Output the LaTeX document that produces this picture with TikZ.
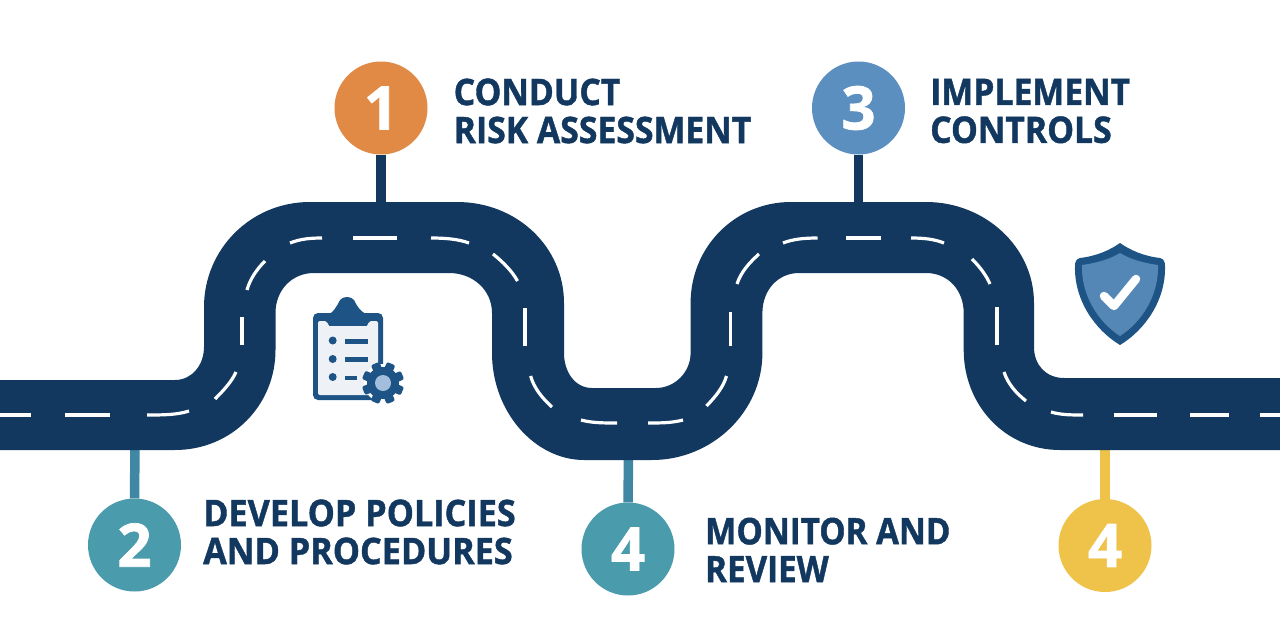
\documentclass[tikz,border=0pt]{standalone}
\usepackage{fontspec}
\setmainfont[BoldFeatures={FakeBold=1.2}]{Open Sans}
\definecolor{road}{HTML}{123860}
\definecolor{orangec}{HTML}{E08A45}
\definecolor{bluec}{HTML}{5B8FBF}
\definecolor{tealc}{HTML}{4A9BAB}
\definecolor{yellowc}{HTML}{EFC24A}
\definecolor{tealln}{HTML}{3F87A3}
\definecolor{iconblue}{HTML}{1D5485}
\definecolor{shieldfill}{HTML}{5487B6}
\definecolor{paper}{HTML}{EEF2F6}
\definecolor{hub}{HTML}{A3BEDC}
\newcommand{\lbl}[2]{\scalebox{#1}[1]{#2}}
\tikzset{
  x=1pt,y=-1pt,
  badge/.style={circle,minimum size=93pt,inner sep=0pt,text=white,font=\fontsize{60}{60}\selectfont\bfseries},
  stem/.style={line width=9.5pt},
  lane/.style={white,line width=3.2pt},
  caption/.style={anchor=west,align=left,text=road,inner sep=0pt,font=\fontsize{36.5}{38}\selectfont\bfseries}
}
\begin{document}
\begin{tikzpicture}
\useasboundingbox (0,0) rectangle (1280,640);
\fill[white] (0,0) rectangle (1280,640);
% anchors on the road
\coordinate (r1) at (381,205);
\coordinate (r3) at (858.5,205);
\coordinate (r2) at (135,447);
\coordinate (r4) at (628.5,457);
\coordinate (r5) at (1105,447);
% badges
\node[badge,fill=orangec] (b1) at (381,108) {1};
\node[badge,fill=bluec] (b3) at (858.5,108) {3};
\node[badge,fill=tealc] (b2) at (134.5,545) {2};
\node[badge,fill=tealc] (b4) at (628,549) {4};
\node[badge,fill=yellowc] (b5) at (1105,545.5) {4};
\draw[stem,road] (b1.south) -- (r1);
\draw[stem,road] (b3.south) -- (r3);
\draw[stem,tealln] (b2.north) -- (r2);
\draw[stem,tealln] (b4.north) -- (r4);
\draw[stem,yellowc] (b5.north) -- (r5);
% road
\fill[road] (0,380) -- (175,380)
 .. controls (192,380) and (204,365) .. (204,347) -- (204,307)
 .. controls (204,250) and (250,202) .. (310,202) -- (457,202)
 .. controls (517,202) and (564,247) .. (564,303) -- (564,353)
 .. controls (564,372) and (575,388) .. (592,388) -- (656,388)
 .. controls (675,388) and (690.6,372) .. (690.6,353) -- (690.6,303)
 .. controls (690.6,247) and (735,202) .. (791,202) -- (926,202)
 .. controls (985,202) and (1034,247) .. (1034,303) -- (1034,347)
 .. controls (1034,365) and (1046,378) .. (1064,378) -- (1280,378)
 -- (1280,450) -- (1060,450)
 .. controls (1005,450) and (963.7,405) .. (963.7,350) -- (963.7,313)
 .. controls (963.7,290) and (948,273) .. (926,273) -- (799,273)
 .. controls (778,273) and (762.4,290) .. (762.4,313) -- (762.4,353)
 .. controls (762.4,412) and (712,460) .. (652,460) -- (584,460)
 .. controls (535,460) and (492,412) .. (492,353) -- (492,313)
 .. controls (492,290) and (473,273) .. (449,273) -- (314,273)
 .. controls (292,273) and (275.5,290) .. (275.5,313) -- (275.5,350)
 .. controls (275.5,405) and (232,450) .. (175,450) -- (0,450) -- cycle;
% lane dashes
\draw[lane] (0,415) -- (31,415);
\draw[lane] (65,415) -- (110,415);
\draw[lane] (147,415) .. controls (162,415) and (177,415) .. (189,411);
\draw[lane] (215,399) .. controls (225,389) and (232,381) .. (236,372);
\draw[lane] (242,317) -- (242,345);
\draw[lane] (247,290) .. controls (250,279) and (257,269) .. (265,261);
\draw[lane] (290,243) .. controls (300,239) and (310,238) .. (322,238);
\draw[lane] (353,238) -- (397,238);
\draw[lane] (431,238) .. controls (445,238) and (458,239) .. (469,243);
\draw[lane] (493,254) .. controls (503,262) and (512,271) .. (517.5,281);
\draw[lane] (525,308) -- (525,346);
\draw[lane] (530.6,376) .. controls (534,388) and (542,398) .. (552,407);
\draw[lane] (581,420) .. controls (592,423) and (604,423) .. (617,423);
\draw[lane] (648,423) .. controls (660,423) and (672,423) .. (683,420);
\draw[lane] (706.5,406) .. controls (715,397) and (723,388) .. (726.5,376);
\draw[lane] (730.6,312) -- (730.6,346);
\draw[lane] (737,284) .. controls (741,272) and (749,263) .. (759,254);
\draw[lane] (783,243) .. controls (793,239) and (805,238) .. (817.5,238);
\draw[lane] (846,238) -- (881,238);
\draw[lane] (911,238) .. controls (923,238) and (934,239) .. (944,243);
\draw[lane] (972,259) .. controls (980,267) and (986,275) .. (990,284);
\draw[lane] (997,307) -- (997,345);
\draw[lane] (1004,372) .. controls (1008,384) and (1016,393) .. (1026,401);
\draw[lane] (1051,412) .. controls (1061,415) and (1072,415) .. (1083,415);
\draw[lane] (1114,415) -- (1157,415);
\draw[lane] (1190,415) -- (1229,415);
\draw[lane] (1260,415) -- (1280,415);
% captions
\node[caption] (t1) at (453.5,111) {\lbl{0.925}{CONDUCT}\\\lbl{0.925}{RISK ASSESSMENT}};
\node[caption] (t3) at (930,111) {\lbl{0.925}{IMPLEMENT}\\\lbl{0.925}{CONTROLS}};
\node[caption] (t2) at (203,532) {\lbl{0.937}{DEVELOP POLICIES}\\\lbl{0.937}{AND PROCEDURES}};
\node[caption] (t4) at (705,550) {\lbl{0.908}{MONITOR AND}\\\lbl{0.908}{REVIEW}};
% clipboard icon
\fill[iconblue,rounded corners=5pt] (313,313) -- (383,313) -- (383,400) -- (313,400) -- cycle;
\fill[iconblue] (325,316) .. controls (333,314) and (337,306) .. (340,300)
  .. controls (343,296) and (351,296) .. (354,300)
  .. controls (357,306) and (361,314) .. (372,316) -- cycle;
\fill[paper,rounded corners=2pt] (318,321) -- (327,321) -- (328,325) .. controls (329,326) and (330,326) .. (332,326)
  -- (364,326) .. controls (366,326) and (367,326) .. (368,325) -- (369,321) -- (378,321) -- (378,395) -- (318,395) -- cycle;
\fill[iconblue] (332.7,340.5) circle (4);
\fill[iconblue] (332.7,359) circle (4);
\fill[iconblue] (332.7,377) circle (4);
\fill[iconblue] (345,339) rectangle (368,343.5);
\fill[iconblue] (345,357) rectangle (368,361.5);
\fill[iconblue] (345,376) rectangle (357,380);
\fill[white] (383,383) circle (19);
\fill[iconblue] (383,383) circle (16);
\foreach \a in {0,45,...,315}{
  \fill[iconblue,rounded corners=2pt,rotate around={\a+22:(383,383)}] (378.5,362) rectangle (387.5,372);
}
\fill[hub] (383,383) circle (8);
% shield icon
\fill[iconblue] (1120,243) .. controls (1130,250) and (1143,256) .. (1160,258)
  .. controls (1164,259) and (1165,262) .. (1165,266)
  .. controls (1166,300) and (1145,330) .. (1120,345)
  .. controls (1095,330) and (1074,300) .. (1075,266)
  .. controls (1075,262) and (1076,259) .. (1080,258)
  .. controls (1097,256) and (1110,250) .. (1120,243) -- cycle;
\fill[shieldfill] (1120,253) .. controls (1130,259) and (1143,263) .. (1158,265)
  .. controls (1159,295) and (1142,322) .. (1120,336)
  .. controls (1098,322) and (1081,295) .. (1082,265)
  .. controls (1097,263) and (1110,259) .. (1120,253) -- cycle;
\draw[white,line width=8.5pt,line cap=round,line join=round] (1104,296) -- (1114,306) -- (1136,279);
\end{tikzpicture}
\end{document}
